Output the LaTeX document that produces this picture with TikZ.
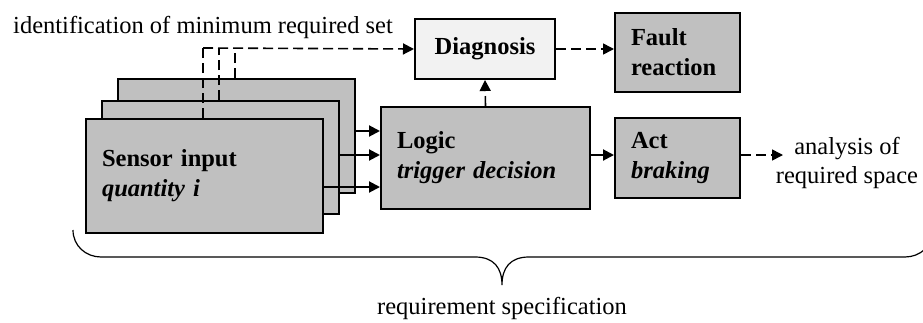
\documentclass[tikz,border=0pt]{standalone}
\usepackage{fontspec}
\setmainfont{Liberation Serif}
\usetikzlibrary{arrows.meta}
\definecolor{boxgray}{HTML}{C0C0C0}
\definecolor{diaggray}{HTML}{F2F2F2}
\begin{document}
\begin{tikzpicture}[x=1pt,y=-1pt,
  font=\fontsize{24.5}{30}\selectfont,
  block/.style={draw=black, line width=2pt, fill=boxgray, anchor=north west,
    inner xsep=16pt, inner ysep=0pt, align=left,
    font=\fontsize{24.5}{30}\selectfont\bfseries},
  conn/.style={line width=2pt, -{Triangle[length=11pt,width=11pt]}},
  dsh/.style={line width=1.6pt, dash pattern=on 10pt off 5pt},
]
\useasboundingbox (0,0) rectangle (923,322);

% stacked sensor channels
\node[block, minimum width=237pt, minimum height=114pt] (back) at (117,78) {};
\node[block, minimum width=237pt, minimum height=113pt] (middle) at (101,100) {};
\node[block, text width=205pt, minimum height=114pt] (front) at (85,118)
  {Sensor input\\\textit{quantity i}};

% processing chain
\node[block, text width=177pt, minimum height=102pt] (logic) at (380,106)
  {Logic\\\textit{trigger decision}};
\node[block, text width=93pt, minimum height=80pt] (act) at (614,117)
  {Act\\\textit{braking}};
\node[block, text width=93pt, minimum height=79pt] (fault) at (614,12)
  {Fault\\reaction};
\node[block, fill=diaggray, align=center, inner xsep=0pt,
  minimum width=140pt, minimum height=60pt] (diag) at (414,18) {Diagnosis};

% free texts
\node[anchor=base west, inner sep=0pt] (idtxt) at (13,33)
  {identification of minimum required set};
\node[anchor=base, inner sep=0pt] (reqtxt) at (502,314)
  {requirement specification};
\node[align=center, inner sep=0pt, font=\fontsize{24.5}{29}\selectfont]
  (ana) at (847,163) {analysis of\\required space};

% junction points of the dashed diagnosis feed
\coordinate (jA) at (203,48);
\coordinate (jB) at (219,48);
\coordinate (jC) at (235,48);
\coordinate (anaIn) at (783,155);

% sensor signals into the logic
\draw[conn] (back.east |- 0,131) -- (logic.west |- 0,131);
\draw[conn] (middle.east |- 0,155) -- (logic.west |- 0,155);
\draw[conn] (front.east |- 0,187) -- (logic.west |- 0,187);

% logic to actuator
\draw[conn] (logic.east |- 0,155) -- (act.west |- 0,155);

% dashed diagnosis paths
\draw[dsh] (front.north -| jA) -- (jA);
\draw[dsh] (middle.north -| jB) -- (jB);
\draw[dsh] (back.north -| jC) -- (jC);
\draw[dsh, conn, line width=1.6pt] (jA) -- (diag.west);
\draw[dsh, conn, line width=1.6pt] (logic.north) -- (diag.south);
\draw[dsh, conn, line width=1.6pt] (diag.east) -- (diag.east -| fault.west);
\draw[dsh, conn, line width=1.6pt] (act.east |- anaIn) -- (anaIn);

% brace over the whole specification
\draw[line width=1.2pt] (73,230) .. controls (73,246) and (86,257) .. (101,257)
  -- (475,257) .. controls (494,257) and (502,268) .. (502,285)
  .. controls (502,268) and (510,257) .. (529,257)
  -- (905,257) .. controls (920,257) and (933,246) .. (933,230);
\end{tikzpicture}
\end{document}
